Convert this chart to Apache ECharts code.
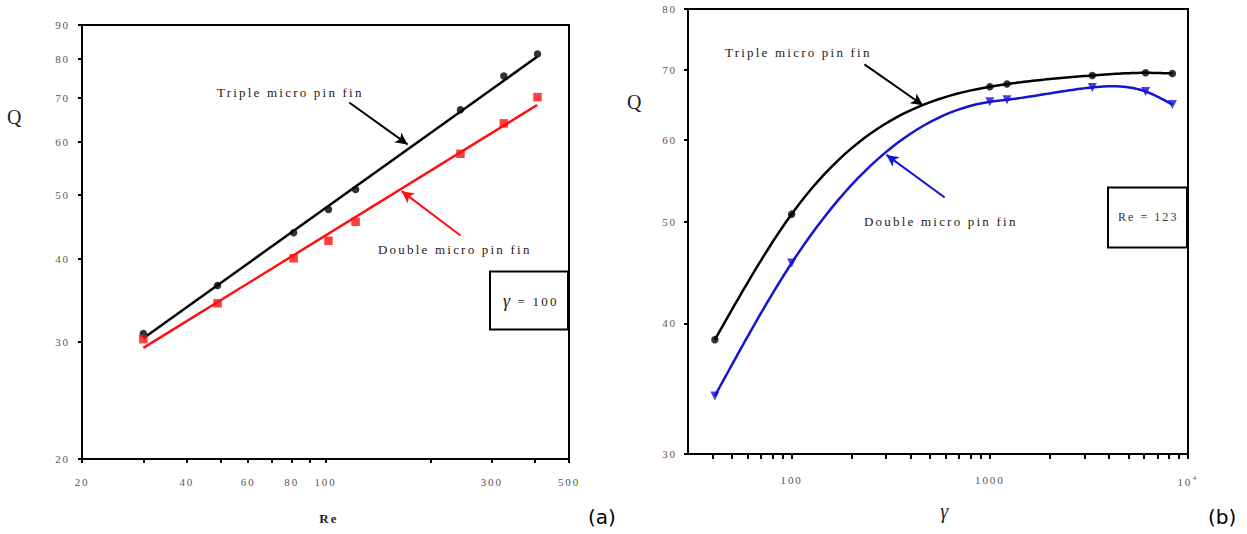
<!DOCTYPE html>
<html><head><meta charset="utf-8">
<script src="https://cdn.jsdelivr.net/npm/echarts@6/dist/echarts.min.js"></script>
<style>
html,body{margin:0;padding:0;background:#fff}
#c{width:1247px;height:534px}
#c text{letter-spacing:0.17em}
#c text[style*="DejaVu Sans"]{letter-spacing:0}
</style>
</head><body><div id="c"></div>
<script>
// ---- Panel (a): Q vs Re, gamma = 100 ----
const reA = [30, 49, 81, 102, 122, 244, 325, 406];
const tripleA = [30.9, 36.5, 43.8, 47.5, 50.9, 67.1, 75.4, 81.4];
const doubleA = [30.3, 34.3, 40.1, 42.6, 45.5, 57.6, 64.0, 70.1];
const fitReA = [30, 405];
const tripleFitA = [30.4, 80.6];
const doubleFitA = [29.4, 68.2];
const xTickLabelsA = [20, 40, 60, 80, 100, 300, 500];
const xTicksA = [20, 30, 40, 50, 60, 70, 80, 90, 100, 200, 300, 400, 500];
const yTicksA = [20, 30, 40, 50, 60, 70, 80, 90];

// ---- Panel (b): Q vs gamma, Re = 123 ----
const gammaB = [41, 100, 1000, 1221, 3290, 6110, 8340];
const tripleB = [38.6, 50.9, 67.4, 67.8, 69.1, 69.5, 69.4];
const doubleB = [34.1, 45.7, 65.2, 65.5, 67.3, 66.7, 64.8];
const xTickLabelsB = [100, 1000, 10000];
const xTicksB = [40,50,60,70,80,90,100,200,300,400,500,600,700,800,900,1000,2000,3000,4000,5000,6000,7000,8000,9000,10000];
const yTicksB = [30, 40, 50, 60, 70, 80];

const serif = '"Liberation Serif", "DejaVu Serif", serif';
const labelStyle = {color: '#555', fontFamily: serif, fontSize: 11};

const chart = echarts.init(document.getElementById('c'), null, {renderer: 'svg'});
const pairs = (xs, ys) => xs.map((x, i) => [x, ys[i]]);

// natural cubic spline through pixel points (drawing only)
function splinePath(pts) {
  const n = pts.length, x = pts.map(p => p[0]), y = pts.map(p => p[1]);
  const h = [];
  for (let i = 0; i < n - 1; i++) h[i] = x[i + 1] - x[i];
  const M = new Array(n).fill(0);
  if (n > 2) {
    const a = [], b = [], c = [], d = [];
    for (let i = 1; i < n - 1; i++) {
      a[i] = h[i - 1]; b[i] = 2 * (h[i - 1] + h[i]); c[i] = h[i];
      d[i] = 6 * ((y[i + 1] - y[i]) / h[i] - (y[i] - y[i - 1]) / h[i - 1]);
    }
    for (let i = 2; i < n - 1; i++) {
      const m = a[i] / b[i - 1];
      b[i] -= m * c[i - 1]; d[i] -= m * d[i - 1];
    }
    M[n - 2] = d[n - 2] / b[n - 2];
    for (let i = n - 3; i >= 1; i--) M[i] = (d[i] - c[i] * M[i + 1]) / b[i];
  }
  const out = [];
  for (let i = 0; i < n - 1; i++) {
    const steps = 30;
    for (let k = 0; k <= steps; k++) {
      if (i > 0 && k === 0) continue;
      const X = x[i] + h[i] * k / steps;
      const A = x[i + 1] - X, B = X - x[i];
      const Y = M[i] * A * A * A / (6 * h[i]) + M[i + 1] * B * B * B / (6 * h[i]) +
        (y[i] / h[i] - M[i] * h[i] / 6) * A + (y[i + 1] / h[i] - M[i + 1] * h[i] / 6) * B;
      out.push([X, Y]);
    }
  }
  return out;
}

function curveSeries(xs, ys, color) {
  return {
    type: 'custom', xAxisIndex: 1, yAxisIndex: 1, data: pairs(xs, ys), silent: true, z: 2,
    renderItem: (params, api) => {
      if (params.dataIndex !== 0) return null;
      const pts = xs.map((v, i) => api.coord([v, ys[i]]));
      return {type: 'polyline', shape: {points: splinePath(pts)},
              style: {stroke: color, lineWidth: 2.5, fill: null}};
    }
  };
}

function arrow(color, from, to) {
  return {
    silent: true, symbol: ['none', 'arrow'], symbolSize: [9, 12],
    label: {show: false},
    lineStyle: {color: color, width: 2, type: 'solid'},
    data: [[{coord: from}, {coord: to}]]
  };
}

function axisCommon(tickLen, ticks, labels, margin) {
  return {
    axisLine: {lineStyle: {color: '#000', width: 2}},
    axisTick: {show: true, length: tickLen, lineStyle: {color: '#000', width: 2}, customValues: ticks},
    axisLabel: Object.assign({customValues: labels, margin: margin}, labelStyle),
    minorTick: {show: false}, splitLine: {show: false}
  };
}

chart.setOption({
  animation: false,
  backgroundColor: '#fff',
  grid: [
    {left: 82, top: 25, width: 487, height: 434, show: true, borderColor: '#000', borderWidth: 2, backgroundColor: 'transparent'},
    {left: 688, top: 9, width: 500, height: 445, show: true, borderColor: '#000', borderWidth: 2, backgroundColor: 'transparent'}
  ],
  xAxis: [
    Object.assign({gridIndex: 0, type: 'log', min: 20, max: 500}, axisCommon(4, xTicksA, xTickLabelsA, 17)),
    Object.assign({gridIndex: 1, type: 'log', min: 30, max: 10000}, axisCommon(5, xTicksB, xTickLabelsB, 20))
  ],
  yAxis: [
    Object.assign({gridIndex: 0, type: 'log', min: 20, max: 90}, axisCommon(4, yTicksA, yTicksA, 12)),
    Object.assign({gridIndex: 1, type: 'log', min: 30, max: 80}, axisCommon(4, yTicksB, yTicksB, 11))
  ],
  series: [
    {type: 'line', xAxisIndex: 0, yAxisIndex: 0, data: pairs(fitReA, tripleFitA), symbol: 'none',
     lineStyle: {color: '#000', width: 2.5}, z: 2,
     markLine: arrow('#000', [117, 68.8], [172, 59.5])},
    {type: 'line', xAxisIndex: 0, yAxisIndex: 0, data: pairs(fitReA, doubleFitA), symbol: 'none',
     lineStyle: {color: '#ff1010', width: 2.5}, z: 2,
     markLine: arrow('#ff1010', [244, 43.4], [165.5, 50.6])},
    {type: 'scatter', xAxisIndex: 0, yAxisIndex: 0, data: pairs(reA, tripleA), symbol: 'circle', symbolSize: 7.5,
     itemStyle: {color: '#000'}, z: 3},
    {type: 'scatter', xAxisIndex: 0, yAxisIndex: 0, data: pairs(reA, doubleA), symbol: 'rect', symbolSize: 8.5,
     itemStyle: {color: '#ff1010'}, z: 3},
    curveSeries(gammaB, tripleB, '#000'),
    curveSeries(gammaB, doubleB, '#1414d2'),
    {type: 'scatter', xAxisIndex: 1, yAxisIndex: 1, data: pairs(gammaB, tripleB), symbol: 'circle', symbolSize: 7.5,
     itemStyle: {color: '#000'}, z: 3,
     markLine: arrow('#000', [233, 70.8], [460, 64.7])},
    {type: 'scatter', xAxisIndex: 1, yAxisIndex: 1, data: pairs(gammaB, doubleB), symbol: 'triangle', symbolRotate: 180, symbolSize: 9,
     itemStyle: {color: '#1414d2'}, z: 3,
     markLine: arrow('#1414d2', [592, 52.8], [301, 58.0])}
  ],
  graphic: [
    {type: 'text', x: 16, y: 117, style: {text: 'Q', font: '20px ' + serif, fill: '#222', align: 'center', verticalAlign: 'middle'}},
    {type: 'text', x: 636, y: 102, style: {text: 'Q', font: '20px ' + serif, fill: '#222', align: 'center', verticalAlign: 'middle'}},
    {type: 'text', x: 329, y: 518, style: {text: 'Re', font: 'bold 13px ' + serif, fill: '#222', align: 'center', verticalAlign: 'middle'}},
    {type: 'text', x: 946, y: 511, style: {text: 'γ', font: 'italic 20px ' + serif, fill: '#222', align: 'center', verticalAlign: 'middle'}},
    {type: 'text', x: 217, y: 92, style: {text: 'Triple micro pin fin', font: '13px ' + serif, fill: '#222', verticalAlign: 'middle'}},
    {type: 'text', x: 378, y: 249, style: {text: 'Double micro pin fin', font: '13px ' + serif, fill: '#222', verticalAlign: 'middle'}},
    {type: 'text', x: 725, y: 52, style: {text: 'Triple micro pin fin', font: '13px ' + serif, fill: '#222', verticalAlign: 'middle'}},
    {type: 'text', x: 864, y: 221, style: {text: 'Double micro pin fin', font: '13px ' + serif, fill: '#222', verticalAlign: 'middle'}},
    {type: 'rect', shape: {x: 490, y: 271.5, width: 78, height: 58}, style: {fill: '#fff', stroke: '#000', lineWidth: 2}, z: 10},
    {type: 'text', x: 503, y: 301, z: 11, style: {rich: {g: {font: 'italic 18px ' + serif, fill: '#222', padding: [0, 2, 0, 0]}, t: {font: '13px ' + serif, fill: '#222'}}, text: '{g|γ}{t| = 100}', verticalAlign: 'middle'}},
    {type: 'rect', shape: {x: 1108, y: 187.5, width: 79, height: 60}, style: {fill: '#fff', stroke: '#000', lineWidth: 2}, z: 10},
    {type: 'text', x: 1118, y: 217, z: 11, style: {text: 'Re = 123', font: '12px ' + serif, fill: '#333', verticalAlign: 'middle'}},
    {type: 'text', x: 588, y: 517, style: {text: '(a)', font: '20px "DejaVu Sans", sans-serif', fill: '#000', verticalAlign: 'middle'}},
    {type: 'text', x: 1208, y: 517, style: {text: '(b)', font: '20px "DejaVu Sans", sans-serif', fill: '#000', verticalAlign: 'middle'}}
  ]
});
// superscript exponent for the 10^4 tick label
chart.setOption({xAxis: [{}, {axisLabel: {
  formatter: v => v === 10000 ? '{b|10}{s|4}' : String(v),
  rich: {b: {fontFamily: serif, fontSize: 11, color: '#555', padding: [0, 3, 0, 0]},
         s: {fontFamily: serif, fontSize: 7, color: '#555', verticalAlign: 'bottom', padding: [0, 0, 9, 0]}}
}}]});
</script></body></html>
